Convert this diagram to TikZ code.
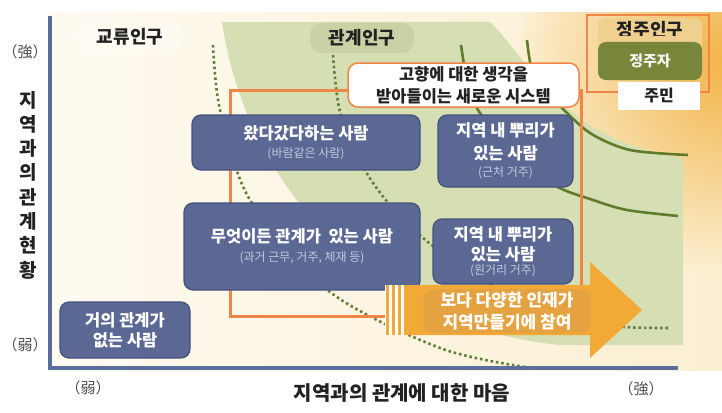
\documentclass[tikz,border=0pt]{standalone}
\usepackage{fontspec}
\setmainfont{Noto Sans CJK KR}
\usepackage{tikz}

\definecolor{boxblue}{HTML}{5B6894}
\definecolor{boxedge}{HTML}{46527E}
\definecolor{subgray}{HTML}{C3C8DC}
\definecolor{routeor}{HTML}{EE8648}
\definecolor{flowor}{HTML}{F2A938}
\definecolor{flowdark}{HTML}{E5A241}
\definecolor{dotgreen}{HTML}{62803A}
\definecolor{bandgreen}{HTML}{5F7B2C}
\definecolor{fieldgreen}{HTML}{D5DFB3}
\definecolor{tabgreen}{HTML}{C8D2A4}
\definecolor{axisblue}{HTML}{5A6E9E}
\definecolor{creamL}{HTML}{FEFAF0}
\definecolor{creamR}{HTML}{FBEFD2}
\definecolor{glow}{HTML}{F2B244}
\definecolor{settab}{HTML}{F0D08E}
\definecolor{setolive}{HTML}{77863A}
\definecolor{ink}{HTML}{222222}

\newcommand{\fsz}[2]{\fontsize{#1}{#2}\selectfont}
\newcommand{\subtxt}{\mdseries\fsz{12}{14}\color{subgray}}

\begin{document}
\begin{tikzpicture}[x=1pt, y=-1pt,
    every node/.style={font=\fsz{16}{20}, text=ink},
    person/.style={draw=boxedge, line width=1.2pt, fill=boxblue, rounded corners=9pt, text=white,
        align=center, font=\bfseries\fsz{16.5}{22}, inner sep=0pt},
    route/.style={draw=routeor, line width=3pt},
    dots/.style={draw=dotgreen, line width=2.6pt, dash pattern=on 2.6pt off 2.8pt},
    band/.style={draw=bandgreen, line width=2.6pt},
    axis/.style={draw=axisblue, line width=3.5pt},
    pop/.style={font=\bfseries\fsz{18}{20}},
    side/.style={font=\fsz{15}{18}, text=ink!80}]
    \useasboundingbox (0,0) rectangle (722,412);

    % background
    \shade[left color=creamL, right color=creamR] (50,13) rectangle (722,370);
    \begin{scope}
        \clip (50,13) rectangle (722,370);
        \shade[inner color=glow, outer color=creamR] (735,60) circle (215);
    \end{scope}
    \fill[fieldgreen] (222,22) -- (490,22) .. controls (530,60) and (560,140) .. (683,158)
        -- (683,345) -- (560,345) .. controls (400,330) and (250,210) .. (222,22) -- cycle;

    % population labels
    \node[pop, fill=white, fill opacity=.35, text opacity=1, rounded corners=12pt,
        minimum width=104pt, minimum height=32pt] (flowpop) at (130,37) {교류인구};
    \node[pop, fill=tabgreen, rounded corners=12pt, minimum width=104pt, minimum height=30pt] (relpop) at (362,38) {관계인구};

    % boundaries
    \draw[dots] plot[smooth] coordinates {(213,45) (220,110) (250,200) (330,292) (440,348) (525,367)};
    \draw[dots] plot[smooth] coordinates {(333,55) (340,112) (362,165) (390,205) (433,246) (510,295) (580,320) (625,327) (668,328)};
    \draw[band] plot[smooth] coordinates {(461,45) (467,80) (478,110) (510,150) (554,185) (593,200) (627,210) (678,216)};
    \draw[band] plot[smooth] coordinates {(527,40) (534,77) (557,103) (590,133) (630,150) (688,155)};

    % route
    \coordinate (rTL) at (230,90);
    \coordinate (rTR) at (581,90);
    \coordinate (rBL) at (230,316);
    \coordinate (flowtail) at (386,316);
    \coordinate (flowtop) at (581,286);
    \draw[route] (flowtail) -- (rBL) -- (rTL) -- (rTR) -- (flowtop);

    % people
    \node[person, minimum width=228pt, minimum height=55pt] (visit) at (306,142.5)
        {왔다갔다하는 사람\\[-4pt]{\subtxt (바람같은 사람)}};
    \node[person, minimum width=236pt, minimum height=87pt] (anyrel) at (302,246.5)
        {무엇이든 관계가~~있는 사람\\[-3pt]{\subtxt (과거 근무, 거주, 체재 등)}};
    \node[person, minimum width=135pt, minimum height=72pt] (nearroot) at (505.5,151)
        {지역 내 뿌리가\\[1pt]있는 사람\\[-5pt]{\subtxt (근처 거주)}};
    \node[person, minimum width=140pt, minimum height=65pt] (farroot) at (503,251.5)
        {지역 내 뿌리가\\[-2pt]있는 사람\\[-8pt]{\subtxt (원거리 거주)}};
    \node[person, minimum width=130pt, minimum height=56pt] (norel) at (125,330)
        {거의 관계가\\[-2pt]없는 사람};
    \node[draw=routeor, line width=1.5pt, fill=white, rounded corners=10pt, align=center,
        font=\bfseries\fsz{16.5}{22}, minimum width=231pt, minimum height=44pt, inner sep=0pt] (system) at (463.5,85)
        {고향에 대한 생각을\\받아들이는 새로운 시스템};

    % arrow
    \fill[flowor] (404,285) -- (590,285) -- (590,262) -- (642,310) -- (590,358) -- (590,335) -- (404,335) -- cycle;
    \fill[white] (385,285) rectangle (404,335);
    \foreach \s in {386,392,398}
        \fill[flowor] (\s,285) rectangle ++(3,50);
    \node[fill=flowdark, rounded corners=10pt, minimum width=167pt, minimum height=44pt, inner sep=0pt,
        align=center, text=white, font=\bfseries\fsz{17}{22}] (flowtext) at (507,311)
        {보다 다양한 인재가\\지역만들기에 참여};

    % settled population
    \node[draw=routeor, line width=2.5pt, minimum width=122pt, minimum height=77pt, inner sep=0pt] (settleframe) at (648,53.5) {};
    \node[pop, fill=settab, rounded corners=7pt, minimum width=104pt, minimum height=24pt, inner sep=0pt] (settled) at (650,30) {정주인구};
    \fill[settab] (598,36) rectangle (702,50);
    \node[fill=setolive, rounded corners=8pt, minimum width=104pt, minimum height=38pt, inner sep=0pt,
        text=white!92!setolive, font=\bfseries\fsz{15}{18}] (settler) at (650,61) {정주자};
    \node[fill=white, minimum width=82pt, minimum height=28pt, inner sep=0pt, font=\bfseries\fsz{16}{18}] (resident) at (659,96) {주민};

    % axes
    \coordinate (origin) at (50,368);
    \coordinate (ytop) at (50,16);
    \coordinate (xend) at (678,368);
    \draw[axis] (ytop) -- (origin) -- (xend);
    \node[font=\bfseries\fsz{19}{24.3}, align=center] (ylabel) at (28,185) {지\\역\\과\\의\\관\\계\\현\\황};
    \node[font=\bfseries\fsz{20}{24}] (xlabel) at (402,393) {지역과의 관계에 대한 마음};
    \node[side] (ystrong) at (25,52) {（強）};
    \node[side] (yweak) at (25,345) {（弱）};
    \node[side] (xweak) at (88,388) {（弱）};
    \node[side] (xstrong) at (641,389) {（強）};
\end{tikzpicture}
\end{document}
